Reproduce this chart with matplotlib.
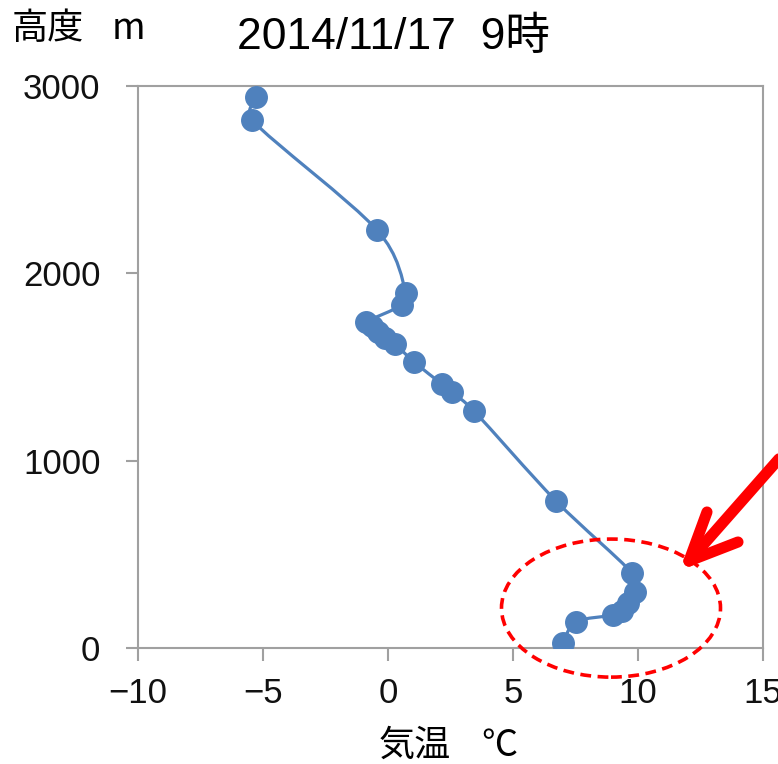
import matplotlib
matplotlib.use("Agg")
import matplotlib.pyplot as plt
from matplotlib.path import Path
from matplotlib.patches import PathPatch, Ellipse
from matplotlib.lines import Line2D
import numpy as np

plt.rcParams['font.family'] = ['Liberation Sans', 'Noto Sans CJK JP']

# temperature (°C) and altitude (m)
temp = [-5.28, -5.44, -0.44, 0.72, 0.56, -0.88, -0.64, -0.40, -0.12, 0.28,
        1.04, 2.16, 2.56, 3.44, 6.72, 9.76, 9.88, 9.60, 9.36, 9.00, 7.52, 7.00]
height = [2941, 2818, 2231, 1895, 1831, 1740, 1719, 1687, 1655, 1623,
          1527, 1409, 1367, 1265, 785, 400, 299, 240, 198, 176, 139, 27]

title = "2014/11/17  9時"
blue = "#4F81BD"
gray = "#A0A0A0"
cjk = ['Noto Sans CJK JP', 'DejaVu Sans']

fig = plt.figure(figsize=(7.78, 7.64), dpi=100)
ax = fig.add_axes([138/778, 1-648/764, (763-138)/778, (648-86)/764])

# smoothed line like Excel's, handles clamped so close points don't loop
m_per_deg = 3000 / 562 * 25  # equal pixel scale for both axes
pts = np.column_stack([temp, np.array(height) / m_per_deg]).astype(float)
n = len(pts)
tang = []
for i in range(n):
    a = pts[max(i - 1, 0)]
    b = pts[min(i + 1, n - 1)]
    tang.append((b - a) / 2)
verts = [pts[0]]
codes = [Path.MOVETO]
for i in range(n - 1):
    p1, p2 = pts[i], pts[i + 1]
    seg = np.linalg.norm(p2 - p1)
    h1, h2 = tang[i] / 3, tang[i + 1] / 3
    l1, l2 = np.linalg.norm(h1), np.linalg.norm(h2)
    if l1 > seg / 2:
        h1 = h1 * (seg / 2) / l1
    if l2 > seg / 2:
        h2 = h2 * (seg / 2) / l2
    verts += [p1 + h1, p2 - h2, p2]
    codes += [Path.CURVE4] * 3
verts = np.array(verts)
verts[:, 1] *= m_per_deg
ax.add_patch(PathPatch(Path(verts, codes), fill=False, edgecolor=blue, lw=2.3, zorder=2))
ax.plot(temp, height, 'o', color=blue, markersize=15.5, zorder=3, linestyle='none')

ax.set_xlim(-10, 15)
ax.set_ylim(0, 3000)
ax.set_xticks([-10, -5, 0, 5, 10, 15])
ax.set_yticks([0, 1000, 2000, 3000])
for s in ax.spines.values():
    s.set_color(gray)
    s.set_linewidth(1.5)
ax.tick_params(colors=gray, width=1.5, length=9, labelsize=25, labelcolor='#111111')
ax.tick_params(axis='y', pad=18)
ax.tick_params(axis='x', pad=12)

# dashed ellipse around the low-level inversion
ax.add_patch(Ellipse((8.92, 213), 8.76, 737, fill=False, edgecolor='red',
                     lw=2.6, linestyle=(0, (3, 1.8)), zorder=4, clip_on=False))

fig.text(237/778, 1-37/764, title, fontsize=32, va='center', ha='left')
fig.text(12/778, 1-39/764, "高度", fontsize=26, va='baseline', ha='left', family=cjk)
fig.text(112/778, 1-39/764, "m", fontsize=26, va='baseline', ha='left', family=cjk)
fig.text(379/778, 1-756/764, "気温", fontsize=26, va='baseline', ha='left', family=cjk)
fig.text(481/778, 1-756/764, "℃", fontsize=26, va='baseline', ha='left', family=cjk)

# red arrow in figure pixels
def px(x, y):
    return x / 778, 1 - y / 764

tip = (689, 561)
for start in [(800, 435), (707, 512), (738, 542)]:
    (x0, y0), (x1, y1) = px(*start), px(*tip)
    fig.add_artist(Line2D([x0, x1], [y0, y1], transform=fig.transFigure,
                          color='red', lw=8, solid_capstyle='round'))

fig.savefig("out.png", dpi=100)
